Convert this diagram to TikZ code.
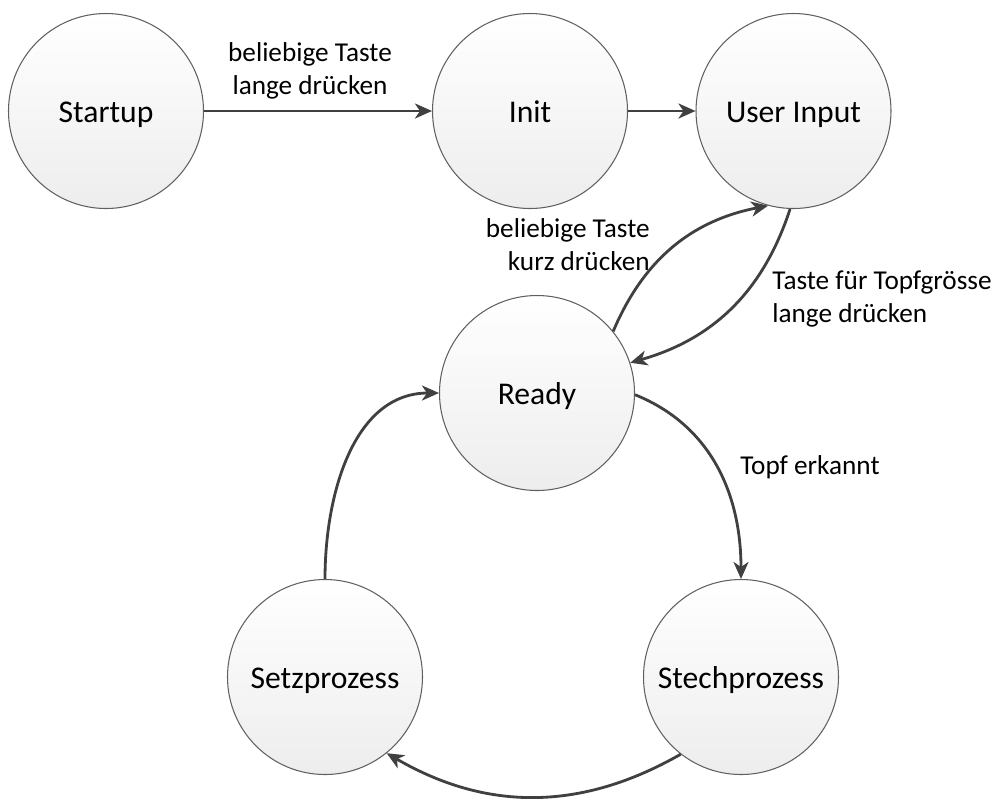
\documentclass[tikz,border=0pt]{standalone}
\usepackage{fontspec}
\setmainfont{Carlito}
\usetikzlibrary{arrows.meta}
\definecolor{edgegray}{HTML}{404040}
\definecolor{rimgray}{HTML}{606060}
\tikzset{
  % state circles
  state/.style={draw=rimgray, line width=0.6pt, circle, minimum size=3.9cm, inner sep=0pt,
    text height=14pt, text depth=0.6pt,
    top color=white, bottom color=black!7, font=\fontsize{18}{22}\selectfont},
  % transitions
  flow/.style={draw=edgegray, line width=1.6pt, -{Stealth[length=3.4mm, width=3mm, inset=1mm]}},
  % edge text
  lbl/.style={font=\fontsize{15.5}{18.8}\selectfont, inner sep=0pt},
}
\begin{document}
\begin{tikzpicture}
  \useasboundingbox (0,0) rectangle (20.1,-16.18);

  \node[state] (startup) at (2.12, -2.22) {Startup};
  \node[state] (init) at (10.6, -2.22) {Init};
  \node[state] (user) at (15.87, -2.22) {User Input};
  \node[state] (ready) at (10.74, -7.86) {Ready};
  \node[state] (setz) at (6.5, -13.54) {Setzprozess};
  \node[state] (stech) at (14.82, -13.54) {Stechprozess};

  \draw[flow] (startup) -- (init);
  \draw[flow] (init) -- (user);
  \draw[flow] (ready.39) to[bend left=28] (user.255);
  \draw[flow] (user.268) to[bend left=28] (ready.18);
  \draw[flow] (ready.-1) to[out=-22, in=90] (stech.north);
  \draw[flow] (stech.232) to[bend left=30] (setz.309);
  \draw[flow] (setz.north) to[out=90, in=180] (ready.west);

  \node[lbl, align=center] (l1) at (6.2, -1.42) {beliebige Taste\\lange drücken};
  \node[lbl, align=right, anchor=east] (l2) at (13.0, -4.9) {beliebige Taste\\kurz drücken};
  \node[lbl, align=left, anchor=west] (l3) at (15.44, -5.98) {Taste für Topfgrösse\\lange drücken};
  \node[lbl, anchor=west] (l4) at (14.8, -9.34) {Topf erkannt};
\end{tikzpicture}
\end{document}
